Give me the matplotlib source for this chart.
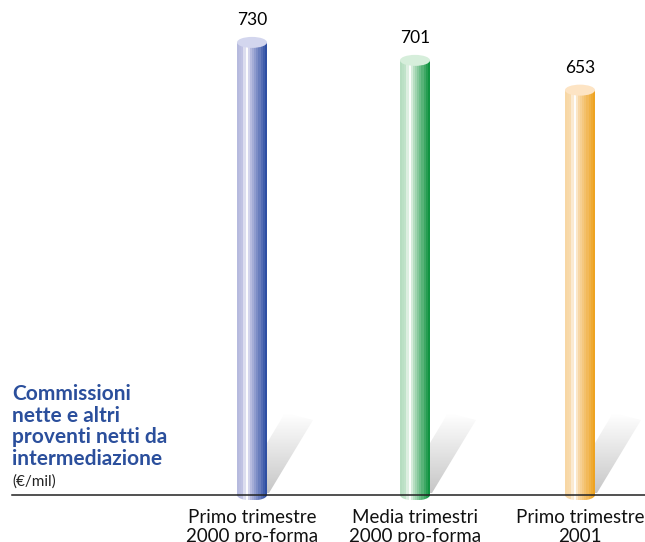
import numpy as np
import matplotlib.pyplot as plt
from matplotlib.patches import Ellipse, Polygon
from matplotlib.colors import LinearSegmentedColormap, to_rgb

categories = ["Primo trimestre\n2000 pro-forma", "Media trimestri\n2000 pro-forma", "Primo trimestre\n2001"]
values = [730, 701, 653]
dark = ["#2f4fa3", "#0f9340", "#eea321"]
light = ["#c2c4e4", "#c4e4cc", "#f9dcb0"]
tops = ["#d3d6ee", "#d6eedb", "#fde4c4"]

plt.rcParams['font.family'] = ['Lato', 'DejaVu Sans']

fig = plt.figure(figsize=(6.45, 5.42), dpi=100)
ax = fig.add_axes([0, 0, 1, 1])
scale = 0.62  # px per unit
ax.set_xlim(0, 645)
ax.set_ylim(-47 / scale, (542 - 47) / scale)
ax.axis('off')

xpos = [252, 415, 580]
half = 15
ell_h = 11 / scale


def cylinder_colors(lo, hi):
    lo, hi = np.array(to_rgb(lo)), np.array(to_rgb(hi))
    stops = [(0.0, lo * 0.92 + 0.08 * hi), (0.18, lo), (0.3, np.ones(3)),
             (0.42, lo), (1.0, hi)]
    cmap = LinearSegmentedColormap.from_list("c", stops)
    bands = 14
    return cmap(np.linspace(0, 1, bands))[None, :, :3]


for x, v, d, l, t in zip(xpos, values, dark, light, tops):
    # shadow cast up and to the right
    pts = [(x - half, 2 / scale), (x + half + 2, 2 / scale),
           (x + half + 46, 75 / scale), (x - half + 48, 82 / scale)]
    shadow = Polygon(pts, closed=True, facecolor='none', edgecolor='none')
    ax.add_patch(shadow)
    grad = np.linspace(0.78, 1.0, 64)[:, None]
    im = ax.imshow(np.dstack([grad] * 3), extent=(x - half, x + half + 48, 2 / scale, 82 / scale),
                   origin='lower', aspect='auto', zorder=1)
    im.set_clip_path(shadow)

    # body
    body = cylinder_colors(l, d)
    ax.imshow(body, extent=(x - half, x + half, 0, v), aspect='auto',
              interpolation='nearest', zorder=2)
    bottom = Ellipse((x, 0), 2 * half, ell_h, facecolor='none', edgecolor='none')
    ax.add_patch(bottom)
    imb = ax.imshow(body, extent=(x - half, x + half, -ell_h / 2, 0), aspect='auto',
                    interpolation='nearest', zorder=2)
    imb.set_clip_path(bottom)
    ax.add_patch(Ellipse((x, v), 2 * half, ell_h, facecolor=t, edgecolor='none', zorder=3))
    ax.text(x, v + 22 / scale, str(v), ha='center', va='center', fontsize=12.5, color='black')

ax.plot([12, 645], [0, 0], color='#222222', lw=1.1, zorder=4)

for x, c in zip(xpos, categories):
    ax.text(x, -14 / scale, c, ha='center', va='top', fontsize=13.5,
            color='#111111', linespacing=1.12)

ax.text(12, 111 / scale, "Commissioni\nnette e altri\nproventi netti da\nintermediazione",
        ha='left', va='top', fontsize=15, fontweight='bold', color='#2b4f9c',
        linespacing=1.1)
ax.text(12, 6 / scale, "(€/mil)", ha='left', va='bottom', fontsize=11, color='#222222')

fig.savefig("out.png", dpi=100)
